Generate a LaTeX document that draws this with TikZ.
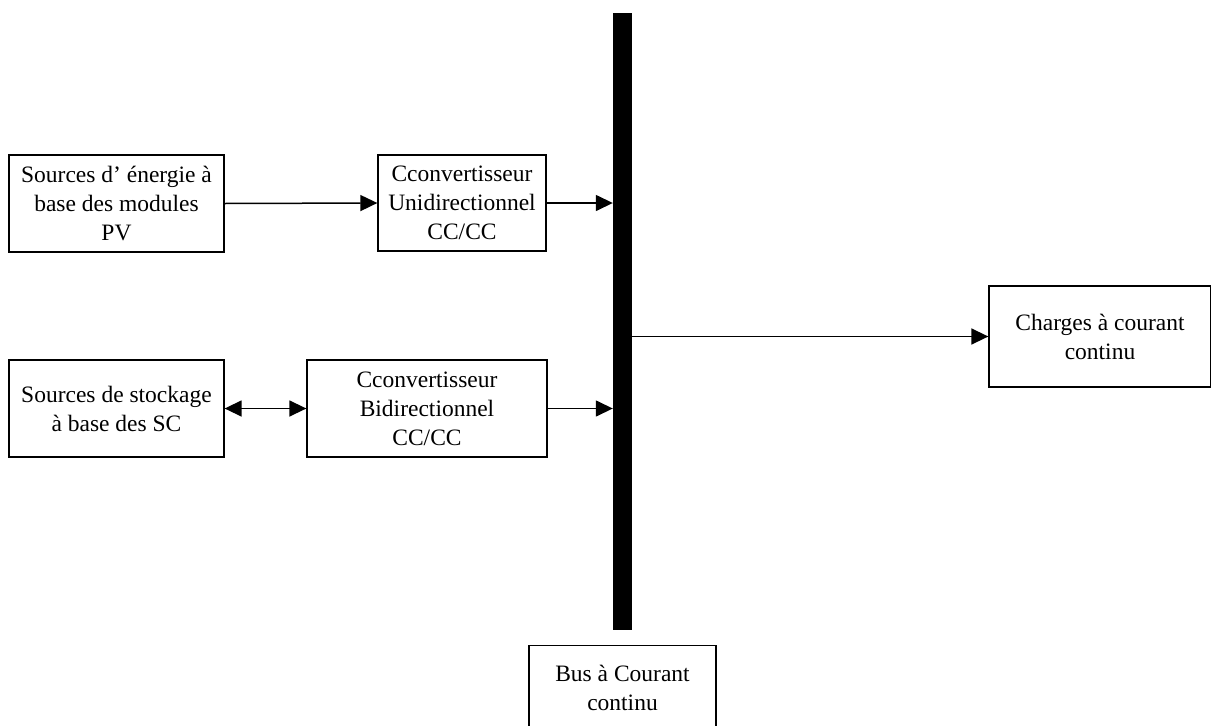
\documentclass[tikz,border=0pt]{standalone}
\usepackage{fontspec}
\setmainfont{Liberation Serif}
\usetikzlibrary{arrows.meta}
\begin{document}
\begin{tikzpicture}[x=1pt,y=-1pt,
  block/.style={draw, line width=1.3pt, rectangle, inner sep=0pt, align=center,
    font=\fontsize{23.5}{29}\selectfont},
  flow/.style={line width=1.5pt, -{Triangle[length=17pt,width=16pt]}},
  dualflow/.style={line width=1.5pt, {Triangle[length=17pt,width=16pt]}-{Triangle[length=17pt,width=16pt]}}]
  \useasboundingbox (0,0) rectangle (1211,726);

  % source and converter blocks
  \node[block, minimum width=215pt, minimum height=97pt] (pv) at (116.5,203.5)
    {Sources d’ énergie à\\base des modules\\PV};
  \node[block, minimum width=168pt, minimum height=96pt] (uni) at (462,203)
    {Cconvertisseur\\Unidirectionnel\\CC/CC};
  \node[block, minimum width=215pt, minimum height=97pt] (sc) at (116.5,408.5)
    {Sources de stockage\\à base des SC};
  \node[block, minimum width=240pt, minimum height=97pt] (bi) at (427,408.5)
    {Cconvertisseur\\Bidirectionnel\\CC/CC};

  % DC bus bar
  \node[fill=black, draw=none, minimum width=19pt, minimum height=617pt, inner sep=0pt]
    (bus) at (622.5,321.5) {};

  % load and bus label
  \node[block, minimum width=222pt, minimum height=101pt] (load) at (1100,336.5)
    {Charges à courant\\continu};
  \node[block, minimum width=187pt, minimum height=84pt, anchor=north] (buslabel)
    at (622.5,645) {Bus à Courant\\continu};

  % connectors
  \draw[flow] (pv.east) -- (uni.west);
  \draw[flow] (uni.east) -- (uni.east -| bus.west);
  \draw[dualflow] (sc.east) -- (bi.west);
  \draw[flow] (bi.east) -- (bi.east -| bus.west);
  \draw[flow] (load.west -| bus.east) -- (load.west);
\end{tikzpicture}
\end{document}
